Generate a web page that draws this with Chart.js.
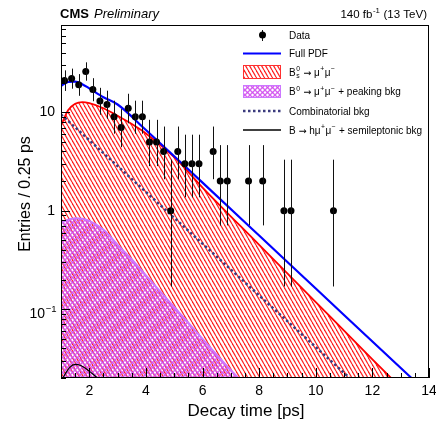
<!DOCTYPE html>
<html>
<head>
<meta charset="utf-8">
<script src="https://cdn.jsdelivr.net/npm/chart.js@4.4.1/dist/chart.umd.min.js"></script>
<style>
  html, body { margin: 0; padding: 0; background: #fff; }
  canvas { display: block; }
</style>
</head>
<body>
<canvas id="c" width="436" height="421"></canvas>
<script>
const FONT = '"Liberation Sans", Arial, Helvetica, sans-serif';
const SYMBOL_FONT = '"DejaVu Sans", sans-serif';

// observed entries, 0.25 ps bins
const binCentres = [1.125, 1.375, 1.625, 1.875, 2.125, 2.375, 2.625, 2.875, 3.125, 3.375,
    3.625, 3.875, 4.125, 4.375, 4.625, 4.875, 5.125, 5.375, 5.625, 5.875,
    6.375, 6.625, 6.875, 7.625, 8.125, 8.875, 9.125, 10.625];
const entries = [21, 22, 19, 26, 17, 13, 12, 9, 7, 11,
    9, 9, 5, 5, 4, 1, 4, 3, 3, 3,
    4, 2, 2, 2, 2, 1, 1, 1];
const errDown = [4.53, 4.64, 4.30, 5.06, 4.06, 3.55, 3.41, 2.94, 2.58, 3.26,
    2.94, 2.94, 2.16, 2.16, 1.91, 0.83, 1.91, 1.63, 1.63, 1.63,
    1.91, 1.29, 1.29, 1.29, 1.29, 0.83, 0.83, 0.83];
const errUp = [5.65, 5.76, 5.43, 6.17, 5.20, 4.71, 4.57, 4.11, 3.77, 4.42,
    4.11, 4.11, 3.38, 3.38, 3.16, 2.30, 3.16, 2.92, 2.92, 2.92,
    3.16, 2.64, 2.64, 2.64, 2.64, 2.30, 2.30, 2.30];

// fit components
const pdfTime = [1.0, 1.25, 1.5, 1.75, 2.0, 2.5, 3.0, 4.0, 6.0, 8.0, 10.0, 12.0, 14.0];
const pdfValue = [18.5, 20.3, 20.5, 19.3, 17.5, 14.2, 12.0, 6.6, 1.93, 0.56, 0.162, 0.047, 0.0136];

const bsTime = [1.0, 1.25, 1.5, 1.75, 2.0, 2.5, 3.0, 3.5, 4.0, 5.0, 6.0, 8.0, 10.0, 12.0, 13.0];
const bsValue = [7.3, 10.5, 12.2, 12.7, 12.4, 11.0, 9.2, 7.6, 6.1, 3.5, 1.72, 0.45, 0.118, 0.031, 0.016];

const peakTime = [1.0, 1.25, 1.5, 1.75, 2.0, 2.5, 3.0, 3.5, 4.0, 5.0, 6.0, 7.0, 7.5];
const peakValue = [0.75, 0.81, 0.84, 0.83, 0.79, 0.64, 0.45, 0.32, 0.22, 0.105, 0.05, 0.024, 0.017];

const combTime = [1.0, 2.0, 4.0, 8.0, 12.0];
const combValue = [9.5, 5.2, 1.55, 0.138, 0.0123];

const semiTime = [1.05, 1.15, 1.3, 1.5, 1.7, 1.9, 2.1, 2.3, 2.5];
const semiValue = [0.0195, 0.022, 0.0255, 0.0275, 0.0268, 0.0247, 0.0222, 0.0198, 0.0175];

// axes
const xTickValues = [1, 1.5, 2, 2.5, 3, 3.5, 4, 4.5, 5, 5.5, 6, 6.5, 7, 7.5, 8, 8.5,
    9, 9.5, 10, 10.5, 11, 11.5, 12, 12.5, 13, 13.5, 14];
const xTickLabels = [2, 4, 6, 8, 10, 12, 14];
const yDecades = [0.01, 0.1, 1, 10];
const yLabelled = [1, 10];

const points = (xs, ys) => xs.map((x, i) => ({ x, y: ys[i] }));

function hatch(color, w, h, cross, lw = 1) {
    const c = document.createElement('canvas');
    c.width = w;
    c.height = h;
    const g = c.getContext('2d');
    g.strokeStyle = color;
    g.lineWidth = lw;
    for (let k = -1; k <= 1; k++) {
        g.beginPath();
        g.moveTo(k * w, 0);
        g.lineTo(k * w + w, h);
        g.stroke();
        if (cross) {
            g.beginPath();
            g.moveTo(k * w + w, 0);
            g.lineTo(k * w, h);
            g.stroke();
        }
    }
    return g.createPattern(c, 'repeat');
}

const redHatch = hatch('#ff2020', 4, 7, false, 1.2);
const violetHatch = hatch('rgba(210,80,240,0.9)', 5, 5, true, 1.3);

// parts: plain strings, {sup, sub} scripts, or {sym} drawn with the symbol font
function drawRich(ctx, parts, x, y, size, opts = {}) {
    const small = size * 0.68;
    const norm = `${opts.style || ''} ${size}px ${FONT}`;
    const sm = `${small}px ${FONT}`;
    const sym = `${size * 0.95}px ${SYMBOL_FONT}`;
    const segs = (Array.isArray(parts) ? parts : [parts]).map(p => {
        if (typeof p === 'string') {
            ctx.font = norm;
            return { p, w: ctx.measureText(p).width };
        }
        if (p.sym) {
            ctx.font = sym;
            return { p, w: ctx.measureText(p.sym).width };
        }
        ctx.font = sm;
        return { p, w: Math.max(ctx.measureText(p.sup || '').width, ctx.measureText(p.sub || '').width) + 1 };
    });
    const total = segs.reduce((s, q) => s + q.w, 0);
    let cx = opts.align === 'right' ? x - total : opts.align === 'center' ? x - total / 2 : x;
    ctx.textAlign = 'left';
    ctx.textBaseline = 'alphabetic';
    ctx.fillStyle = opts.color || '#000';
    for (const { p, w } of segs) {
        if (typeof p === 'string') {
            ctx.font = norm;
            ctx.fillText(p, cx, y);
        } else if (p.sym) {
            ctx.font = sym;
            ctx.fillText(p.sym, cx, y);
        } else {
            ctx.font = sm;
            if (p.sup) ctx.fillText(p.sup, cx + 0.5, y - size * 0.42);
            if (p.sub) ctx.fillText(p.sub, cx + 0.5, y + size * 0.24);
        }
        cx += w;
    }
    return total;
}

const ARROW = { sym: '\u2192' };

const errorBars = {
    id: 'errorBars',
    afterDatasetsDraw(chart) {
        const { ctx, chartArea } = chart;
        const x = chart.scales.x, y = chart.scales.y;
        ctx.save();
        ctx.beginPath();
        ctx.rect(chartArea.left, chartArea.top, chartArea.right - chartArea.left, chartArea.bottom - chartArea.top);
        ctx.clip();
        ctx.strokeStyle = '#111';
        ctx.lineWidth = 1;
        binCentres.forEach((t, i) => {
            const px = Math.round(x.getPixelForValue(t)) + 0.5;
            ctx.beginPath();
            ctx.moveTo(px, y.getPixelForValue(entries[i] + errUp[i]));
            ctx.lineTo(px, y.getPixelForValue(Math.max(entries[i] - errDown[i], 1e-3)));
            ctx.stroke();
        });
        ctx.restore();
    }
};

const decor = {
    id: 'decor',
    afterDraw(chart) {
        const { ctx, chartArea: a } = chart;
        const x = chart.scales.x, y = chart.scales.y;
        ctx.save();

        // frame
        ctx.strokeStyle = '#000';
        ctx.lineWidth = 1;
        ctx.strokeRect(a.left + 0.5, a.top + 0.5, a.right - a.left - 1, a.bottom - a.top - 1);

        // inward ticks
        ctx.beginPath();
        for (const t of x.ticks) {
            const px = Math.round(x.getPixelForValue(t.value)) + 0.5;
            const len = xTickLabels.includes(t.value) ? 10 : 5;
            ctx.moveTo(px, a.bottom);
            ctx.lineTo(px, a.bottom - len);
        }
        for (const t of y.ticks) {
            const py = Math.round(y.getPixelForValue(t.value)) + 0.5;
            const major = yDecades.some(d => Math.abs(d - t.value) < 1e-9);
            ctx.moveTo(a.left, py);
            ctx.lineTo(a.left + (major ? 9 : 5), py);
        }
        ctx.stroke();

        // 10^-1 label
        const p01 = y.getPixelForValue(0.1);
        drawRich(ctx, ['10', { sup: '\u22121' }], a.left - 4, p01 + 9, 14, { align: 'right' });

        // header
        ctx.fillStyle = '#000';
        ctx.font = `bold 13px ${FONT}`;
        ctx.textAlign = 'left';
        ctx.textBaseline = 'alphabetic';
        ctx.fillText('CMS', 60, 18);
        ctx.font = `italic 13px ${FONT}`;
        ctx.fillText('Preliminary', 94, 18);
        drawRich(ctx, ['140 fb', { sup: '-1' }, ' (13 TeV)'], 427, 18, 11.5, { align: 'right' });

        // axis titles
        drawRich(ctx, 'Decay time [ps]', 246, 416, 17, { align: 'center' });
        ctx.save();
        ctx.translate(30, 194);
        ctx.rotate(-Math.PI / 2);
        drawRich(ctx, 'Entries / 0.25 ps', 0, 0, 16, { align: 'center' });
        ctx.restore();

        // legend
        const sx0 = 243, sx1 = 281, tx = 289, fs = 10;
        // data
        ctx.fillStyle = '#000';
        ctx.strokeStyle = '#111';
        ctx.beginPath();
        ctx.moveTo(262.5, 30);
        ctx.lineTo(262.5, 41);
        ctx.stroke();
        ctx.beginPath();
        ctx.arc(262.5, 35, 3.5, 0, Math.PI * 2);
        ctx.fill();
        drawRich(ctx, 'Data', tx, 38.5, fs);
        // full pdf
        ctx.strokeStyle = '#0000ff';
        ctx.lineWidth = 2.2;
        ctx.beginPath();
        ctx.moveTo(sx0, 53.5);
        ctx.lineTo(sx1, 53.5);
        ctx.stroke();
        drawRich(ctx, 'Full PDF', tx, 57, fs);
        // Bs
        ctx.fillStyle = redHatch;
        ctx.fillRect(sx0, 65, sx1 - sx0, 14);
        ctx.strokeStyle = '#ff3030';
        ctx.lineWidth = 1;
        ctx.strokeRect(sx0 + 0.5, 65.5, sx1 - sx0 - 1, 13);
        drawRich(ctx, ['B', { sup: '0', sub: 's' }, ' ', ARROW, ' \u03bc', { sup: '+' }, '\u03bc', { sup: '\u2212' }], tx, 75.5, fs);
        // B0
        ctx.fillStyle = violetHatch;
        ctx.fillRect(sx0, 85, sx1 - sx0, 13);
        ctx.strokeStyle = '#cc77ff';
        ctx.strokeRect(sx0 + 0.5, 85.5, sx1 - sx0 - 1, 12);
        drawRich(ctx, ['B', { sup: '0' }, ' ', ARROW, ' \u03bc', { sup: '+' }, '\u03bc', { sup: '\u2212' }, ' + peaking bkg'], tx, 95, fs);
        // combinatorial
        ctx.strokeStyle = '#3b3b7d';
        ctx.lineWidth = 2.5;
        ctx.setLineDash([2.5, 2.5]);
        ctx.beginPath();
        ctx.moveTo(sx0, 111);
        ctx.lineTo(sx1, 111);
        ctx.stroke();
        ctx.setLineDash([]);
        drawRich(ctx, 'Combinatorial bkg', tx, 114.5, fs);
        // semileptonic
        ctx.strokeStyle = '#000';
        ctx.lineWidth = 1.3;
        ctx.beginPath();
        ctx.moveTo(sx0, 130);
        ctx.lineTo(sx1, 130);
        ctx.stroke();
        drawRich(ctx, ['B ', ARROW, ' h\u03bc', { sup: '+' }, '\u03bc', { sup: '\u2212' }, ' + semileptonic bkg'], tx, 133.5, fs);

        ctx.restore();
    }
};

Chart.defaults.font.family = FONT;
Chart.defaults.color = '#000';

const curve = {
    pointRadius: 0,
    cubicInterpolationMode: 'monotone',
    clip: 0,
};

new Chart(document.getElementById('c'), {
    type: 'line',
    data: {
        datasets: [
            {
                label: 'Data',
                data: points(binCentres, entries),
                showLine: false,
                pointRadius: 3.5,
                pointBackgroundColor: '#000',
                pointBorderWidth: 0,
                order: 0,
            },
            {
                ...curve,
                label: 'Full PDF',
                data: points(pdfTime, pdfValue),
                borderColor: '#0000ff',
                borderWidth: 2.2,
                order: 1,
            },
            {
                ...curve,
                label: 'Bs',
                data: points(bsTime, bsValue),
                borderColor: '#ff0000',
                borderWidth: 1.8,
                backgroundColor: redHatch,
                fill: 'start',
                order: 5,
            },
            {
                ...curve,
                label: 'B0',
                data: points(peakTime, peakValue),
                borderColor: '#cc77ff',
                borderWidth: 2,
                backgroundColor: violetHatch,
                fill: 'start',
                order: 4,
            },
            {
                ...curve,
                label: 'Combinatorial',
                data: points(combTime, combValue),
                borderColor: '#3b3b7d',
                borderWidth: 2.5,
                borderDash: [2.5, 2.5],
                order: 3,
            },
            {
                ...curve,
                label: 'Semileptonic',
                data: points(semiTime, semiValue),
                borderColor: '#000',
                borderWidth: 1.2,
                order: 3,
            },
        ],
    },
    options: {
        responsive: false,
        animation: false,
        layout: { padding: { top: 25, right: 7, left: 0, bottom: 0 } },
        plugins: {
            legend: { display: false },
            tooltip: { enabled: false },
        },
        scales: {
            x: {
                type: 'linear',
                min: 1,
                max: 14,
                grid: { display: false, drawTicks: false },
                border: { display: false },
                afterBuildTicks: s => { s.ticks = xTickValues.map(value => ({ value })); },
                ticks: {
                    autoSkip: false,
                    maxRotation: 0,
                    padding: 5,
                    font: { size: 14 },
                    callback: v => xTickLabels.includes(v) ? String(v) : '',
                },
                afterFit: s => { s.height = 43; s.paddingLeft = 0; s.paddingRight = 0; },
            },
            y: {
                type: 'logarithmic',
                min: 0.02,
                max: 77,
                grid: { display: false, drawTicks: false },
                border: { display: false },
                afterBuildTicks: s => {
                    const ticks = [];
                    for (const d of yDecades) {
                        for (let m = 1; m <= 9; m++) {
                            const v = +(m * d).toPrecision(3);
                            if (v >= 0.02 && v <= 77) ticks.push({ value: v });
                        }
                    }
                    s.ticks = ticks;
                },
                ticks: {
                    autoSkip: false,
                    padding: 6,
                    font: { size: 14 },
                    callback: v => yLabelled.includes(v) ? String(v) : '',
                },
                afterFit: s => { s.width = 61; s.paddingTop = 0; s.paddingBottom = 0; },
            },
        },
    },
    plugins: [errorBars, decor],
});
</script>
</body>
</html>
